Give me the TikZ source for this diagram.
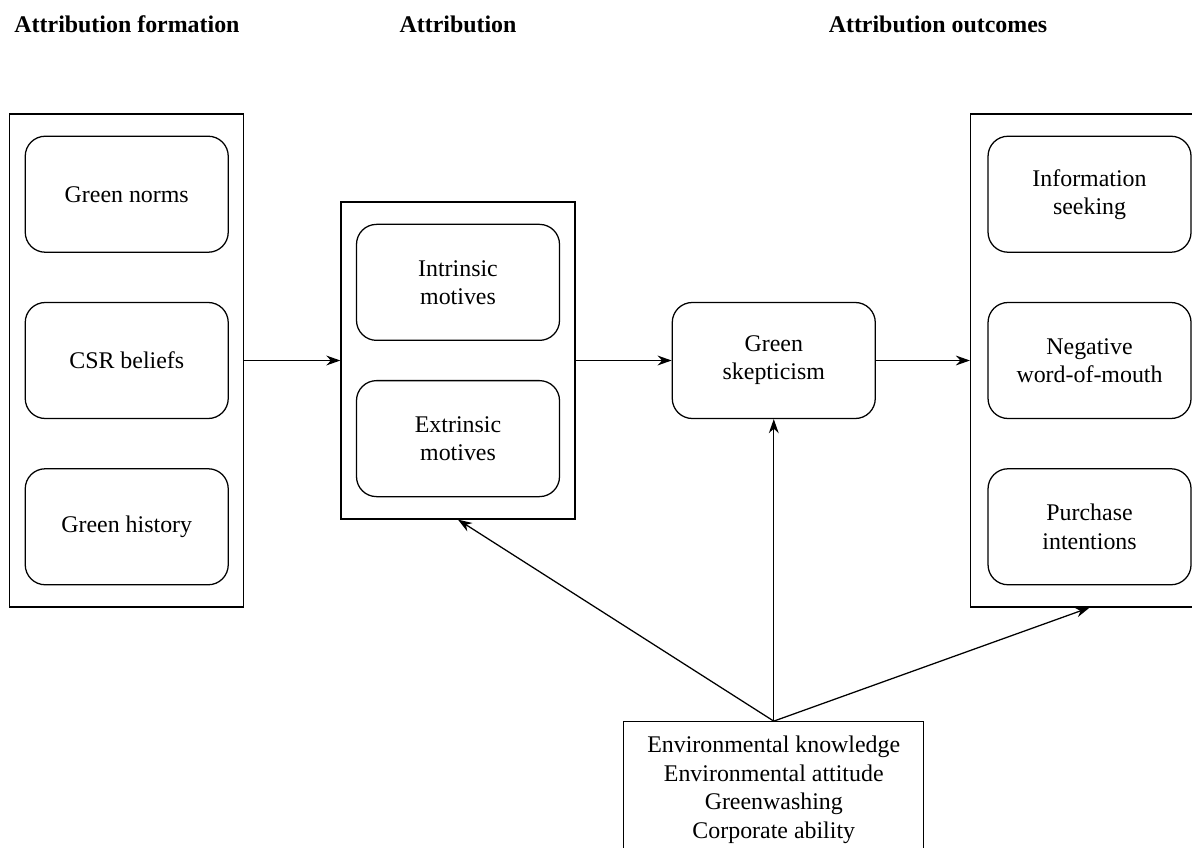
\documentclass[tikz,border=0pt]{standalone}
\usepackage{fontspec}
\setmainfont{Liberation Serif}
\usepackage{tikz}
\usetikzlibrary{arrows.meta, positioning}
\tikzstyle{group} = [rectangle, 
minimum width=5.85cm, 
draw=black, line width=0.9pt]
\tikzstyle{inner} = [rectangle, rounded corners=0.5cm, 
minimum width=5.075cm, 
minimum height=2.9cm, 
align=center, 
font=\fontsize{17}{20}\selectfont, 
draw=black, line width=0.9pt]
\tikzstyle{factorbox} = [rectangle, 
minimum width=7.5cm, 
inner ysep=0.35cm, 
align=center, 
font=\fontsize{17}{20.4}\selectfont, 
draw=black, line width=0.9pt]
\tikzstyle{head} = [font=\fontsize{17}{20}\selectfont\bfseries]
\tikzstyle{arrow} = [line width=0.9pt, -{Stealth[length=10pt, width=7pt]}]

\begin{document}
\begin{tikzpicture}[node distance=0.5cm]
        \useasboundingbox (0,0) rectangle (29.8,-21.2);

        % --- Grupos ---
        \node (attr) [group, minimum height=7.925cm] at (11.45,-9.0125) {};
        \node (formation) [group, minimum height=12.325cm, left=2.4cm of attr] {};
        \node (skep) [inner, right=2.4cm of attr] {Green\\skepticism};
        \node (outcomes) [group, minimum width=5.95cm, minimum height=12.325cm, right=2.35cm of skep] {};

        % --- Títulos ---
        \node [head] at (3.175,-0.6) {Attribution formation};
        \node [head] at (attr |- 0,-0.6) {Attribution};
        \node [head] at (23.45,-0.6) {Attribution outcomes};

        % --- Antecedentes ---
        \node (csr) [inner] at (formation) {CSR beliefs};
        \node (norms) [inner, above=1.225cm of csr] {Green norms};
        \node (history) [inner, below=1.225cm of csr] {Green history};

        % --- Motivos ---
        \node (intrinsic) [inner, above=0.4875cm of attr.center] {Intrinsic\\motives};
        \node (extrinsic) [inner, below=0.4875cm of attr.center] {Extrinsic\\motives};

        % --- Resultados ---
        \node (wom) [inner] at (outcomes) {Negative\\word-of-mouth};
        \node (seeking) [inner, above=1.225cm of wom] {Information\\seeking};
        \node (purchase) [inner, below=1.225cm of wom] {Purchase\\intentions};

        % --- Moderadores ---
        \node (factors) [factorbox, below=7.55cm of skep] {Environmental knowledge\\Environmental attitude\\Greenwashing\\Corporate ability};

        % --- Conexiones ---
        \draw [arrow] (formation) -- (attr);
        \draw [arrow] (attr) -- (skep);
        \draw [arrow] (skep) -- (outcomes);

        \draw [arrow] (factors.north) -- (skep);
        \draw [arrow] (factors.north) -- (attr.south);
        \draw [arrow] (factors.north) -- (outcomes.south);

    \end{tikzpicture}
\end{document}
